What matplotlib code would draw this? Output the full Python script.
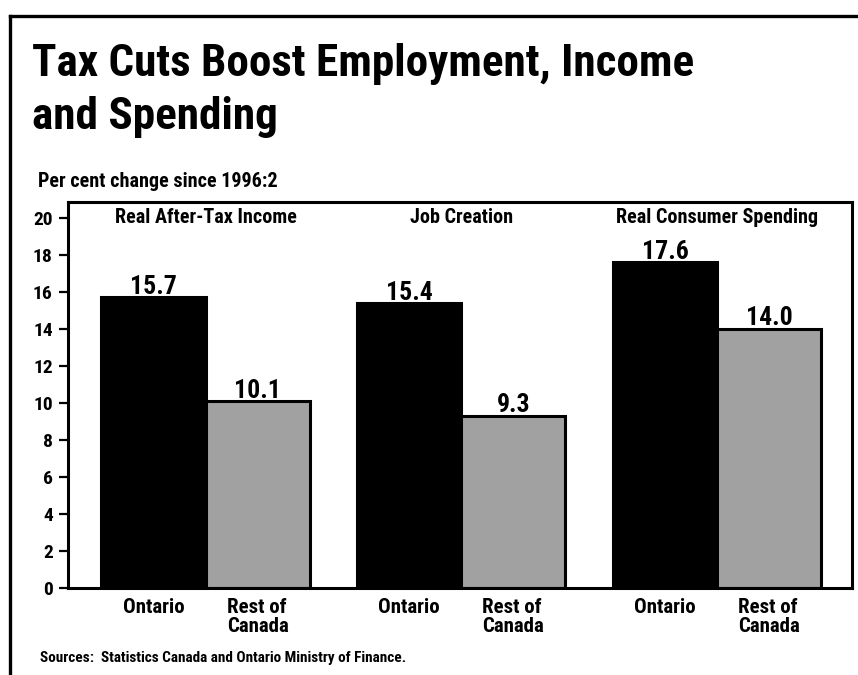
import numpy as np
import matplotlib
matplotlib.use("Agg")
import matplotlib.pyplot as plt
from matplotlib.lines import Line2D
from matplotlib import transforms

# condensed bold face for everything, DejaVu condensed as fallback
plt.rcParams["font.family"] = ["Roboto Condensed", "Fira Sans Condensed", "Barlow Condensed", "DejaVu Sans"]
plt.rcParams["font.stretch"] = "condensed"
plt.rcParams["font.weight"] = "bold"

groups = ["Real After-Tax Income", "Job Creation", "Real Consumer Spending"]
ontario = [15.7, 15.4, 17.6]
rest_of_canada = [10.1, 9.3, 14.0]
bar_names = ["Ontario", "Rest of\nCanada"]
yticks = [0, 2, 4, 6, 8, 10, 12, 14, 16, 18, 20]

W, H = 858, 675
fig = plt.figure(figsize=(W / 100, H / 100), dpi=100)

# outer frame: top and left rules only
fig.add_artist(Line2D([10 / W, 1.0], [1 - 16 / H, 1 - 16 / H], color="black", lw=2.4,
                      transform=fig.transFigure, solid_capstyle="projecting"))
fig.add_artist(Line2D([10 / W, 10 / W], [1 - 16 / H, 0.0], color="black", lw=2.4,
                      transform=fig.transFigure, solid_capstyle="projecting"))

fig.text(32 / W, 1 - 76 / H, "Tax Cuts Boost Employment, Income", fontsize=32.5, va="baseline")
fig.text(32 / W, 1 - 129 / H, "and Spending", fontsize=32.5, va="baseline")
fig.text(38 / W, 1 - 187 / H, "Per cent change since 1996:2", fontsize=14.5, va="baseline")
fig.text(40 / W, 1 - 662 / H, "Sources:  Statistics Canada and Ontario Ministry of Finance.",
         fontsize=11, va="baseline")

ax = fig.add_axes([68 / W, 1 - 588 / H, 784 / W, 386 / H])
x = np.arange(len(groups))
w = 0.407
b1 = ax.bar(x - w / 2, ontario, w, color="black", edgecolor="black", lw=2.2)
b2 = ax.bar(x + w / 2, rest_of_canada, w, color="#a1a1a1", edgecolor="black", lw=2.2)

for bars, vals in [(b1, ontario), (b2, rest_of_canada)]:
    for rect, v in zip(bars, vals):
        ax.annotate(f"{v:.1f}", (rect.get_x() + rect.get_width() / 2, v),
                    xytext=(0, 2.5), textcoords="offset points",
                    ha="center", va="baseline", fontsize=18.5)

for i, g in enumerate(groups):
    ax.text(i, 19.73, g, ha="center", va="baseline", fontsize=14.5)

ax.set_xlim(-0.538, 2.528)
ax.set_ylim(0, 20.86)
ax.set_yticks(yticks)
ax.tick_params(axis="y", direction="out", length=6.5, width=1.6, pad=4.5, labelsize=14)

# bar names under each bar
trans = transforms.blended_transform_factory(ax.transData, ax.transAxes)
for i in x:
    ax.text(i - w / 2, -0.026, bar_names[0], transform=trans, ha="center", va="top", fontsize=15)
    ax.text(i + w / 2, -0.026, bar_names[1], transform=trans, ha="center", va="top",
            fontsize=15, multialignment="left", linespacing=1.0)
ax.set_xticks([])

for s in ax.spines.values():
    s.set_linewidth(2.2)

fig.savefig("out.png", dpi=100)
